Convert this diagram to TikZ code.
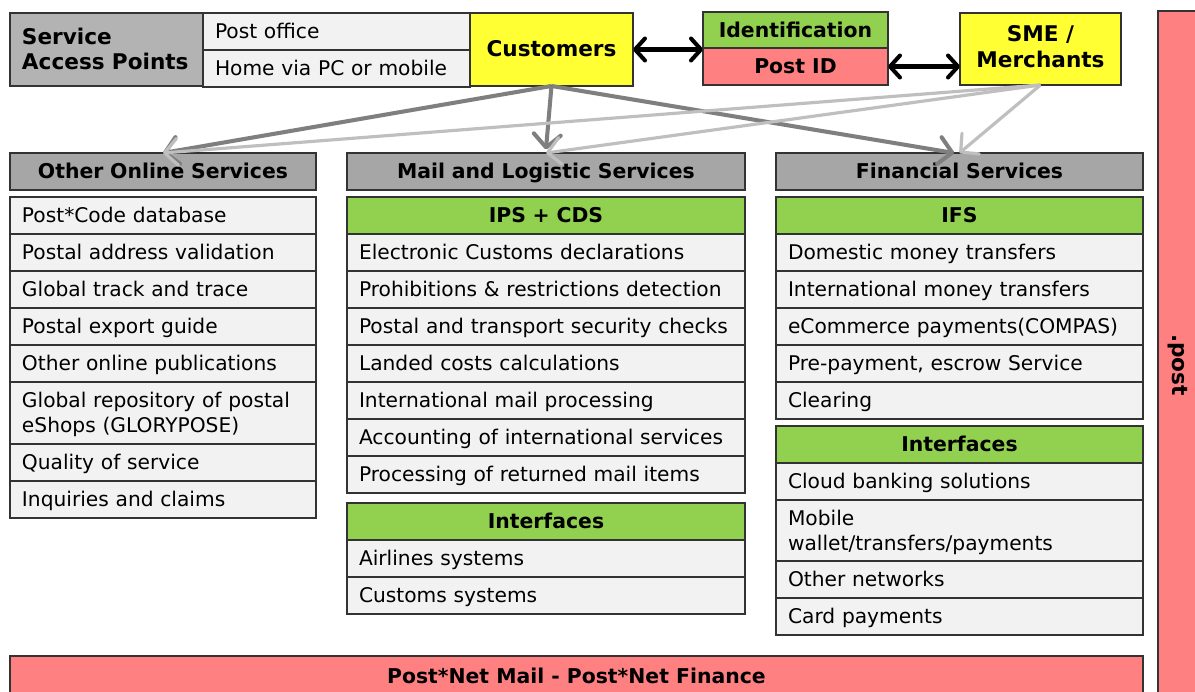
\documentclass[tikz,border=0pt]{standalone}
\usepackage{fontspec}
\setmainfont{DejaVu Sans}
\usetikzlibrary{positioning}
\usetikzlibrary{arrows.meta}
\definecolor{headgray}{HTML}{A6A6A6}
\definecolor{sapgray}{HTML}{B3B3B3}
\definecolor{itemgray}{HTML}{F2F2F2}
\definecolor{subgreen}{HTML}{92D050}
\definecolor{custyellow}{HTML}{FFFF33}
\definecolor{salmon}{HTML}{FF8080}
\definecolor{custgray}{HTML}{7F7F7F}
\definecolor{smegray}{HTML}{BFBFBF}
\newcommand\cellstrut{\rule[-2.85pt]{0pt}{14pt}}
\tikzset{
        cell/.style={draw=black!80, line width=0.9pt, inner xsep=0.24cm, inner ysep=0pt, outer sep=0pt,
            font=\fontsize{11.5}{14}\selectfont, execute at begin node=\cellstrut, execute at end node=\cellstrut},
        % Grey column headers
        node_head/.style={cell, fill=headgray, font=\fontsize{11.6}{14}\selectfont\bfseries, align=center, minimum height=0.74cm},
        % Green sub headers
        node_sub/.style={cell, fill=subgreen, font=\fontsize{11.6}{14}\selectfont\bfseries, align=center, minimum height=0.74cm},
        % Service items
        node_item/.style={cell, fill=itemgray, align=left, minimum height=0.74cm},
        % Yellow actors
        node_actor/.style={cell, fill=custyellow, font=\fontsize{12.3}{14.5}\selectfont\bfseries, align=center},
        % Column widths
        col_one/.style={text width=5.64cm},
        col_two/.style={text width=7.48cm},
        col_three/.style={text width=6.86cm},
        % Arrows
        arrow_cust/.style={draw=custgray, line width=2.3pt, -{Straight Barb[round,length=2.6mm,width=5.4mm]}},
        arrow_sme/.style={draw=smegray, line width=1.8pt, -{Straight Barb[round,length=2.6mm,width=5.4mm]}},
        arrow_id/.style={draw=black, line width=2.3pt, {Straight Barb[round,length=2mm,width=4.4mm]}-{Straight Barb[round,length=2mm,width=4.4mm]}}
}
\begin{document}
\begin{tikzpicture}[x=0.02cm, y=-0.02cm, node distance=0pt]
    \clip (0,0) rectangle (1195,692);
    \fill[white] (0,0) rectangle (1195,692);

    % top row
    \node[cell, fill=sapgray, anchor=north west, text width=3.38cm, minimum height=1.46cm, align=left, font=\fontsize{12.3}{14.5}\selectfont\bfseries] (sap) at (10,13) {Service\\Access Points};
    \node[node_item, anchor=north west, text width=4.86cm, minimum height=0.74cm] (postoffice) at (203,13) {Post office};
    \node[node_item, below=of postoffice, text width=4.86cm, minimum height=0.74cm] (home) {Home via PC or mobile};
    \node[node_actor, anchor=north west, minimum width=3.26cm, minimum height=1.46cm] (cust) at (470,13) {Customers};
    \node[node_sub, anchor=north west, minimum width=3.7cm, minimum height=0.72cm] (ident) at (703,12) {Identification};
    \node[node_sub, fill=salmon, below=of ident, minimum width=3.7cm, minimum height=0.74cm] (postid) {Post ID};
    \node[node_actor, anchor=north west, minimum width=3.22cm, minimum height=1.44cm] (sme) at (960,13) {SME /\\Merchants};

    % other online services
    \node[node_head, col_one, anchor=north west] (oos) at (10,153) {Other Online Services};
    \node[node_item, col_one, below=0.14cm of oos] (oos1) {Post*Code database};
    \node[node_item, col_one, below=of oos1] (oos2) {Postal address validation};
    \node[node_item, col_one, below=of oos2] (oos3) {Global track and trace};
    \node[node_item, col_one, below=of oos3] (oos4) {Postal export guide};
    \node[node_item, col_one, below=of oos4] (oos5) {Other online publications};
    \node[node_item, col_one, below=of oos5, minimum height=1.24cm] (oos6) {Global repository of postal\\eShops (GLORYPOSE)};
    \node[node_item, col_one, below=of oos6] (oos7) {Quality of service};
    \node[node_item, col_one, below=of oos7] (oos8) {Inquiries and claims};

    % mail and logistic services
    \node[node_head, col_two, anchor=north west] (mls) at (347,153) {Mail and Logistic Services};
    \node[node_sub, col_two, below=0.14cm of mls] (ips) {IPS + CDS};
    \node[node_item, col_two, below=of ips] (mls1) {Electronic Customs declarations};
    \node[node_item, col_two, below=of mls1] (mls2) {Prohibitions \& restrictions detection};
    \node[node_item, col_two, below=of mls2] (mls3) {Postal and transport security checks};
    \node[node_item, col_two, below=of mls3] (mls4) {Landed costs calculations};
    \node[node_item, col_two, below=of mls4] (mls5) {International mail processing};
    \node[node_item, col_two, below=of mls5] (mls6) {Accounting of international services};
    \node[node_item, col_two, below=of mls6] (mls7) {Processing of returned mail items};
    \node[node_sub, col_two, below=0.2cm of mls7] (mlsif) {Interfaces};
    \node[node_item, col_two, below=of mlsif] (mls8) {Airlines systems};
    \node[node_item, col_two, below=of mls8] (mls9) {Customs systems};

    % financial services
    \node[node_head, col_three, anchor=north west] (fs) at (776,153) {Financial Services};
    \node[node_sub, col_three, below=0.14cm of fs] (ifs) {IFS};
    \node[node_item, col_three, below=of ifs] (fs1) {Domestic money transfers};
    \node[node_item, col_three, below=of fs1] (fs2) {International money transfers};
    \node[node_item, col_three, below=of fs2] (fs3) {eCommerce payments(COMPAS)};
    \node[node_item, col_three, below=of fs3] (fs4) {Pre-payment, escrow Service};
    \node[node_item, col_three, below=of fs4] (fs5) {Clearing};
    \node[node_sub, col_three, below=0.14cm of fs5] (fsif) {Interfaces};
    \node[node_item, col_three, below=of fsif] (fs6) {Cloud banking solutions};
    \node[node_item, col_three, below=of fs6, minimum height=1.22cm] (fs7) {Mobile\\wallet/transfers/payments};
    \node[node_item, col_three, below=of fs7] (fs8) {Other networks};
    \node[node_item, col_three, below=of fs8] (fs9) {Card payments};

    % networks
    \node[node_sub, fill=salmon, anchor=north west, minimum width=22.66cm, minimum height=0.8cm] (postnet) at (10,656) {Post*Net Mail - Post*Net Finance};
    \node[draw=black!80, line width=0.9pt, fill=salmon, anchor=north west, minimum width=0.86cm, minimum height=13.9cm] (dotpost) at (1157,10) {};
    \node[rotate=-90, font=\fontsize{12.3}{14}\selectfont\bfseries] (dotpostlabel) at (1178,365) {.post};

    % links
    \draw[arrow_id] (cust) -- (cust -| postid.west);
    \draw[arrow_id] (postid) -- (postid -| sme.west);
    \draw[arrow_cust] (cust.south) -- (oos.north);
    \draw[arrow_cust] (cust.south) -- ([yshift=2pt]mls.north);
    \draw[arrow_cust] (cust.south) -- ([xshift=-3pt]fs.north);
    \draw[arrow_sme] (sme.south) -- (oos.north);
    \draw[arrow_sme] (sme.south) -- (mls.north);
    \draw[arrow_sme] (sme.south) -- (fs.north);
\end{tikzpicture}
\end{document}
